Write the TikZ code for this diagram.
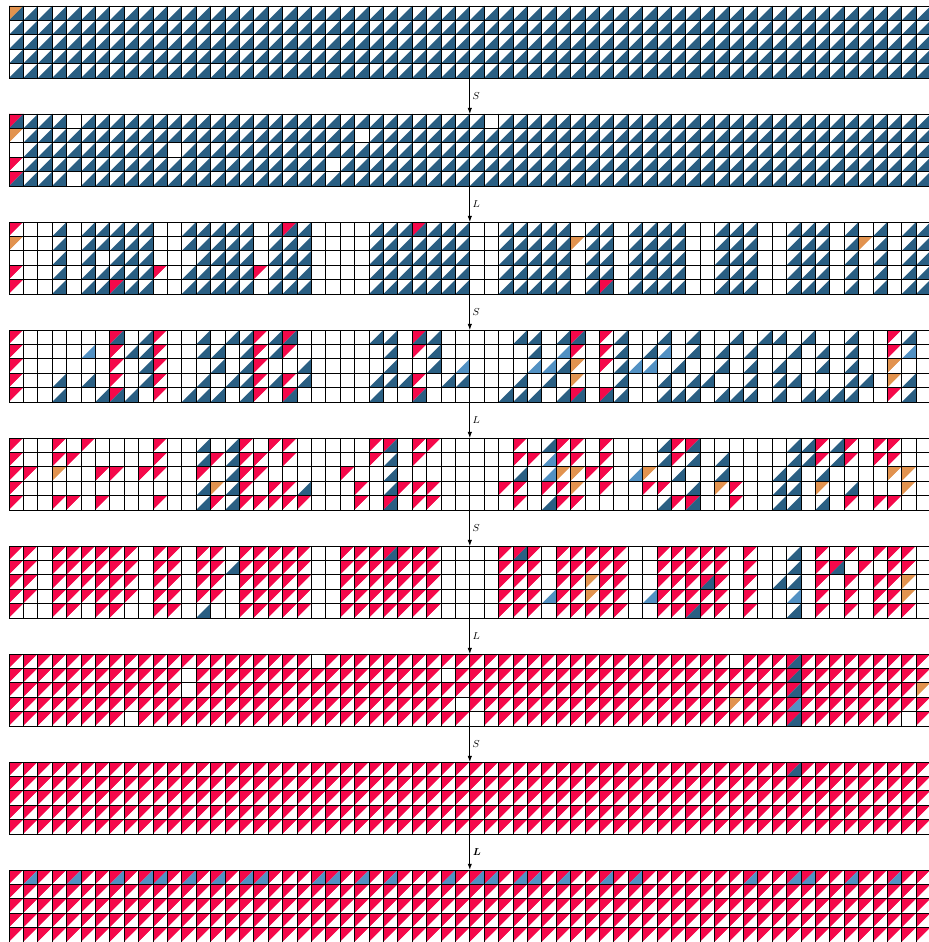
\documentclass[tikz,border=0pt]{standalone}
\usepackage{amsmath}
\usepackage{tikz}
\usetikzlibrary{arrows.meta,positioning}

\definecolor{cblue}{HTML}{2A5F83}
\definecolor{clight}{HTML}{5291C3}
\definecolor{cred}{HTML}{F5084A}
\definecolor{corange}{HTML}{E2934F}

% cell codes: upper-left colour / lower-right colour
\newcommand\defcell[3]{%
  \expandafter\def\csname ulc#1\endcsname{#2}%
  \expandafter\def\csname lrc#1\endcsname{#3}}
\defcell{.}{white}{white}
\defcell{b}{white}{cblue}
\defcell{l}{white}{clight}
\defcell{r}{cred}{white}
\defcell{R}{cred}{cblue}
\defcell{L}{cred}{clight}
\defcell{o}{corange}{white}
\defcell{O}{corange}{cblue}

\newcount\cellx
\newcommand\drawcell[3]{%
  \fill[\csname ulc#3\endcsname] (#1,#2) -- ++(1,0) -- ++(-1,-1) -- cycle;
  \fill[\csname lrc#3\endcsname] (#1+1,#2) -- ++(0,-1) -- ++(-1,0) -- cycle;}
\def\rowloop#1{\ifx#1\relax\else
  \drawcell{\the\cellx}{\celly}{#1}\global\advance\cellx by 1\relax
  \expandafter\rowloop\fi}
\newcommand\gridrow[2]{\global\cellx=0\relax\pgfmathsetmacro\celly{#1}\rowloop#2\relax}
\newcommand\cellgrid[6]{%
  \gridrow{#1}{#2}\gridrow{#1-1}{#3}\gridrow{#1-2}{#4}%
  \gridrow{#1-3}{#5}\gridrow{#1-4}{#6}%
  \foreach \i in {0,...,64} \draw[gridline] (\i,#1) -- (\i,#1-5);
  \foreach \j in {0,...,5} \draw[gridline] (0,#1-\j) -- (64,#1-\j);}

\begin{document}
\begin{tikzpicture}[x=4mm,y=4mm,
  gridline/.style={line width=0.6pt,draw=black,line cap=rect},
  gbox/.style={inner sep=0pt,outer sep=0pt,minimum width=256mm,minimum height=20mm},
  arr/.style={-{Latex[length=1.7mm,width=1.2mm]},line width=0.5pt},
  lbl/.style={right,font=\footnotesize,inner sep=2pt}]
\useasboundingbox (-0.625,0.4167) rectangle (63.82,-65);

\node[gbox] (g1) at (32,-2.5) {};
\node[gbox] (g2) at (32,-10) {};
\node[gbox] (g3) at (32,-17.5) {};
\node[gbox] (g4) at (32,-25) {};
\node[gbox] (g5) at (32,-32.5) {};
\node[gbox] (g6) at (32,-40) {};
\node[gbox] (g7) at (32,-47.5) {};
\node[gbox] (g8) at (32,-55) {};
\node[gbox] (g9) at (32,-62.5) {};

% grid 1
\cellgrid{0}
 {Obbbbbbb bbbbbbbb bbbbbbbb bbbbbbbb bbbbbbbb bbbbbbbb bbbbbbbb bbbbbbbb}
 {bbbbbbbb bbbbbbbb bbbbbbbb bbbbbbbb bbbbbbbb bbbbbbbb bbbbbbbb bbbbbbbb}
 {bbbbbbbb bbbbbbbb bbbbbbbb bbbbbbbb bbbbbbbb bbbbbbbb bbbbbbbb bbbbbbbb}
 {bbbbbbbb bbbbbbbb bbbbbbbb bbbbbbbb bbbbbbbb bbbbbbbb bbbbbbbb bbbbbbbb}
 {bbbbbbbb bbbbbbbb bbbbbbbb bbbbbbbb bbbbbbbb bbbbbbbb bbbbbbbb bbbbbbbb}
% grid 2
\cellgrid{-7.5}
 {Rbbb.bbb bbbbbbbb bbbbbbbb bbbbbbbb b.bbbbbb bbbbbbbb bbbbbbbb bbbbbbbb}
 {obbbbbbb bbbbbbbb bbbbbbbb .bbbbbbb bbbbbbbb bbbbbbbb bbbbbbbb bbbbbbbb}
 {.bbbbbbb bbb.bbbb bbbbbbbb bbbbbbbb bbbbbbbb bbbbbbbb bbbbbbbb bbbbbbbb}
 {rbbbbbbb bbbbbbbb bbbbbb.b bbbbbbbb bbbbbbbb bbbbbbbb bbbbbbbb bbbbbbbb}
 {Rbbb.bbb bbbbbbbb bbbbbbbb bbbbbbbb bbbbbbbb bbbbbbbb bbbbbbbb bbbbbbbb}
% grid 3
\cellgrid{-15}
 {r..b.bbb bb..bbbb b.bRb... .bbbRbbb ..bbbbb. bb.bbbb. .bbb..bb b.b.b.bb}
 {o..b.bbb bb..bbbb b.bbb... .bbbbbbb ..bbbbbo bb.bbbb. .bbb..bb b.bob.bb}
 {...b.b.b bb...bbb b.bbb... .bbbbbbb ..bbbbb. bb.bbbb. .bbb..bb b.b.b.bb}
 {r..b.bbb bbr.bbbb brbbb... .bbbbbbb ..bbbbb. bb.bbbb. .bbb..bb b.b.b.bb}
 {r..b.bbR bb..bbbb b.bbb... .bbbbbbb ..bbbbb. bR.bbbb. .bbb..bb b.b.b.bb}
% grid 4
\cellgrid{-22.5}
 {r......R .br..b.b brbR.... .bb.Rb.. ...bb.bR .rb..b.b ..b.bb.b ..b..rb.}
 {r....l.r bbr..bb. brbr.... ..b.rb.. ....b.lr .rb.bl.b .b.b..b. b.b..rl.}
 {r......r .br...b. br..b... ..b..b.l ....llbo .rbll.b. .b.b.b.. b.b..o..}
 {r..b.b.r .br..b.b brbrb... .bbbr.bb ...b.b.o ..b..b.b b..b.bb. ..bb.ob.}
 {r..b..bR b.r.bbb. br.R.... .b..R... ..bbb.bR .Rb..bbb .bbb.b.b bbb..rb.}
% grid 5
\cellgrid{-30}
 {r..r.r.. ..r..b.b r.rr.... .rR.rr.. ...r.brr .r...brR ......bb rbr.rr..}
 {r..rr... ..r..brb rr.r.... .rb.r... ...rrlrr .r...brb .b....bb rbr.rr..}
 {rr.o..rr .rr..r.b rr.....r ..b..... ...b.loo rr.lo.b. .b...bb. b....oo.}
 {r....... .....bob r.rrb... r.brrr.. ..rr.rro .r..rr.b .or..bb. o.b...o.}
 {r..rr.r. ..r..brb rrrrr... r.R.rr.. ...r.brr .....brR ..r..bb. b.r.rr..}
% grid 6
\cellgrid{-37.5}
 {rr.rrrrr r.rr.rr. rrrrr..r rrRrrr.. ..rRr.rr rrr..rrr rr.r..b. r.r.rrr.}
 {rr.rrrrr r.rr.rrb rrrrr..r rrrrrr.. ..rrr.rr rrr..rrr rr.r..b. rR.r.rr.}
 {rr.rrrrr r.rr.rr. rrrrr..r rrrrrr.. ..rrr.rr orr..rrr Rr.r.bb. r.r.rro.}
 {rr.rrrrr r.rr.rr. rrrrr..r rrrrrr.. ..rrrlrr orr.lrrr rr.r..l. r.r.rro.}
 {r..rr.rr ..rr.b.. rrrrr..r rrrrrr.. ..rrr.rr rrr..rrR rr.r..b. r.r.rrr.}
% grid 7
\cellgrid{-45}
 {rrrrrrrr rrrrrrrr rrrrr.rr rrrrrrrr rrrrrrrr rrrrrrrr rr.rrrRr rrrrrrrr}
 {rrrrrrrr rrrr.rrr rrrrrrrr rrrrrr.r rrrrrrrr rrrrrrrr rrrrrrRr rrrrrrrr}
 {rrrrrrrr rrrr.rrr rrrrrrrr rrrrrrrr rrrrrrrr rrrrrrrr rrrrrrRr rrrrrrro}
 {rrrrrrrr rrrrrrrr rrrrrrrr rrrrrrr. rrrrrrrr rrrrrrrr rrorrrLr rrrrrrrr}
 {rrrrrrrr .rrrrrrr rrrrrrrr rrrrrrrr .rrrrrrr rrrrrrrr rrrrrrRr rrrrrr.r}
% grid 8
\cellgrid{-52.5}
 {rrrrrrrr rrrrrrrr rrrrrrrr rrrrrrrr rrrrrrrr rrrrrrrr rrrrrrRr rrrrrrrr}
 {rrrrrrrr rrrrrrrr rrrrrrrr rrrrrrrr rrrrrrrr rrrrrrrr rrrrrrrr rrrrrrrr}
 {rrrrrrrr rrrrrrrr rrrrrrrr rrrrrrrr rrrrrrrr rrrrrrrr rrrrrrrr rrrrrrrr}
 {rrrrrrrr rrrrrrrr rrrrrrrr rrrrrrrr rrrrrrrr rrrrrrrr rrrrrrrr rrrrrrrr}
 {rrrrrrrr rrrrrrrr rrrrrrrr rrrrrrrr rrrrrrrr rrrrrrrr rrrrrrrr rrrrrrrr}
% grid 9
\cellgrid{-60}
 {rLrrLrrL rLLrLrLr LLrrrLLr LrLrrrLr LLrLLrLr rLrLrrrr rrrLrrLL rrLrrLrr}
 {rrrrrrrr rrrrrrrr rrrrrrrr rrrrrrrr rrrrrrrr rrrrrrrr rrrrrrrr rrrrrrrr}
 {rrrrrrrr rrrrrrrr rrrrrrrr rrrrrrrr rrrrrrrr rrrrrrrr rrrrrrrr rrrrrrrr}
 {rrrrrrrr rrrrrrrr rrrrrrrr rrrrrrrr rrrrrrrr rrrrrrrr rrrrrrrr rrrrrrrr}
 {rrrrrrrr rrrrrrrr rrrrrrrr rrrrrrrr rrrrrrrr rrrrrrrr rrrrrrrr rrrrrrrr}

\draw[arr] (g1.south) -- node[lbl]{$S$} (g2.north);
\draw[arr] (g2.south) -- node[lbl]{$L$} (g3.north);
\draw[arr] (g3.south) -- node[lbl]{$S$} (g4.north);
\draw[arr] (g4.south) -- node[lbl]{$L$} (g5.north);
\draw[arr] (g5.south) -- node[lbl]{$S$} (g6.north);
\draw[arr] (g6.south) -- node[lbl]{$L$} (g7.north);
\draw[arr] (g7.south) -- node[lbl]{$S$} (g8.north);
\draw[arr,line width=0.9pt] (g8.south) -- node[lbl]{$\boldsymbol{L}$} (g9.north);
\end{tikzpicture}
\end{document}
